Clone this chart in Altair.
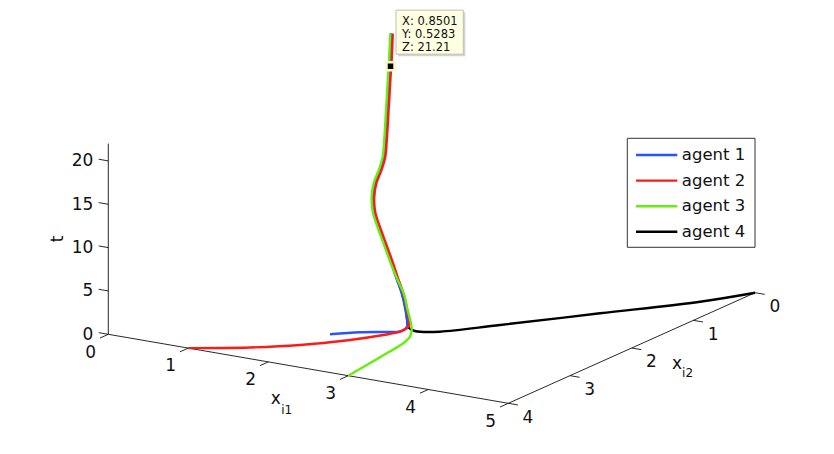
import altair as alt
import pandas as pd

# ---------------- data ----------------
agents = ["agent 1", "agent 2", "agent 3", "agent 4"]
colors = ["#2a52ff", "#ff1a1a", "#66ee11", "#000000"]

# common (consensus) trajectory once the agents have met: t, x_i1, x_i2
cons_t = [1, 2, 3, 4, 5, 6, 7, 8, 9, 10, 11, 12, 13, 14, 15, 16, 18, 20, 22, 25]
cons_x1 = [2.695, 2.552, 2.370, 2.160, 1.956, 1.744, 1.532, 1.330, 1.197, 1.104,
           1.065, 1.010, 0.940, 0.881, 0.838, 0.811, 0.824, 0.836, 0.850, 0.864]
cons_x2 = [2.639, 2.484, 2.306, 2.128, 1.951, 1.773, 1.596, 1.418, 1.263, 1.107,
           0.974, 0.841, 0.730, 0.641, 0.574, 0.530, 0.530, 0.530, 0.530, 0.530]
# small residual separation of each agent on the common path (x_i1)
cons_shift = [-0.006, 0.016, -0.016, 0.0]

# approach phase of each agent
a1_t = [0, 0.15, 0.3, 0.5, 0.75]
a1_x1 = [2.0, 2.258, 2.503, 2.664, 2.697]
a1_x2 = [3.0, 2.848, 2.761, 2.726, 2.679]

a2_t = [0, 0.1, 0.2, 0.3, 0.45, 0.6, 0.75]
a2_x1 = [1.0, 1.562, 1.981, 2.349, 2.575, 2.685, 2.703]
a2_x2 = [4.0, 3.729, 3.461, 3.128, 2.881, 2.754, 2.669]

a3_t = [0, 0.1, 0.25, 0.4, 0.55, 0.75, 1.0, 2.0, 3.0, 4.0]
a3_x1 = [3.0, 2.968, 2.939, 2.914, 2.867, 2.783, 2.656, 2.550, 2.390, 2.160]
a3_x2 = [4.0, 3.660, 3.299, 2.997, 2.828, 2.691, 2.543, 2.457, 2.306, 2.128]

a4_t = [0, 0.05, 0.12, 0.25, 0.4, 0.6, 0.8]
a4_x1 = [5.0, 4.693, 4.036, 3.392, 3.011, 2.806, 2.727]
a4_x2 = [0.0, 0.494, 1.264, 2.049, 2.528, 2.668, 2.662]

# axes
x1_lim = [0, 5]
x2_lim = [0, 4]
t_lim = [0, 22]
x1_ticks = [0, 1, 2, 3, 4, 5]
x2_ticks = [0, 1, 2, 3, 4]
t_ticks = [0, 5, 10, 15, 20]

# data tip
tip_x1, tip_x2, tip_t = 0.8501, 0.5283, 21.21

# ---------------- projection (MATLAB-like 3-D view) ----------------
O = (355.1, 223.7)
E1 = (80.0, 13.8)
E2 = (-61.7, 27.65)
E3 = (0.0, -8.67)


def px(a, b, c):
    return f"{O[0]} + {E1[0]}*datum.{a} + {E2[0]}*datum.{b} + {E3[0]}*datum.{c}"


def py(a, b, c):
    return f"{O[1]} + {E1[1]}*datum.{a} + {E2[1]}*datum.{b} + {E3[1]}*datum.{c}"


XS = alt.Scale(domain=[8, 818], nice=False, zero=False)
YS = alt.Scale(domain=[8, 438], nice=False, zero=False, reverse=True)
FONT = "DejaVu Sans"


def X(f):
    return alt.X(f"{f}:Q", scale=XS, axis=None)


def Y(f):
    return alt.Y(f"{f}:Q", scale=YS, axis=None)


color_enc = alt.Color("agent:N", scale=alt.Scale(domain=agents, range=colors), legend=None)

# ---------------- trajectories ----------------
own = [(a1_t, a1_x1, a1_x2), (a2_t, a2_x1, a2_x2), (a3_t, a3_x1, a3_x2), (a4_t, a4_x1, a4_x2)]
rows = []
for i, name in enumerate(agents):
    ts, xs1, xs2 = own[i]
    for t, a, b in zip(ts, xs1, xs2):
        rows.append({"agent": name, "t": t, "x1": a, "x2": b})
    for t, a, b in zip(cons_t, cons_x1, cons_x2):
        if t > max(ts):
            rows.append({"agent": name, "t": t, "x1": a + cons_shift[i], "x2": b})
traj = pd.DataFrame(rows)

base = alt.Chart(traj).transform_calculate(sx=px("x1", "x2", "t"), sy=py("x1", "x2", "t"))
line_layers = []
for name in ["agent 4", "agent 1", "agent 2", "agent 3"]:
    line_layers.append(
        base.transform_filter(alt.datum.agent == name)
        .mark_line(strokeWidth=2.4, interpolate="catmull-rom")
        .encode(x=X("sx"), y=Y("sy"), color=color_enc, order=alt.Order("t:Q"))
    )

# ---------------- axes lines & ticks ----------------
seg = []
seg.append(dict(x1a=x1_lim[0], x2a=x2_lim[1], ta=0, x1b=x1_lim[1], x2b=x2_lim[1], tb=0))
seg.append(dict(x1a=x1_lim[1], x2a=x2_lim[0], ta=0, x1b=x1_lim[1], x2b=x2_lim[1], tb=0))
seg.append(dict(x1a=x1_lim[0], x2a=x2_lim[1], ta=t_lim[0], x1b=x1_lim[0], x2b=x2_lim[1], tb=t_lim[1]))
for v in x1_ticks:
    seg.append(dict(x1a=v, x2a=x2_lim[1], ta=0, x1b=v, x2b=x2_lim[1] + 0.135, tb=0))
for v in x2_ticks:
    seg.append(dict(x1a=x1_lim[1], x2a=v, ta=0, x1b=x1_lim[1] + 0.12, x2b=v, tb=0))
for v in t_ticks:
    seg.append(dict(x1a=x1_lim[0], x2a=x2_lim[1], ta=v, x1b=x1_lim[0] - 0.12, x2b=x2_lim[1], tb=v))
segs = pd.DataFrame(seg)
axes = (
    alt.Chart(segs)
    .transform_calculate(sxa=px("x1a", "x2a", "ta"), sya=py("x1a", "x2a", "ta"),
                         sxb=px("x1b", "x2b", "tb"), syb=py("x1b", "x2b", "tb"))
    .mark_rule(color="#111111", strokeWidth=0.9)
    .encode(x=X("sxa"), y=Y("sya"), x2="sxb:Q", y2="syb:Q")
)

lab1 = pd.DataFrame({"x1": x1_ticks, "x2": [x2_lim[1]] * len(x1_ticks), "t": [0] * len(x1_ticks),
                     "lab": [str(v) for v in x1_ticks]})
lab2 = pd.DataFrame({"x1": [x1_lim[1]] * len(x2_ticks), "x2": x2_ticks, "t": [0] * len(x2_ticks),
                     "lab": [str(v) for v in x2_ticks]})
lab3 = pd.DataFrame({"x1": [x1_lim[0]] * len(t_ticks), "x2": [x2_lim[1]] * len(t_ticks), "t": t_ticks,
                     "lab": [str(v) for v in t_ticks]})


def tick_text(df, dx, dy, align):
    return (
        alt.Chart(df)
        .transform_calculate(sx=px("x1", "x2", "t"), sy=py("x1", "x2", "t"))
        .mark_text(font=FONT, fontSize=17, align=align, baseline="middle", dx=dx, dy=dy, color="#111111")
        .encode(x=X("sx"), y=Y("sy"), text="lab:N")
    )


ticklabels = [tick_text(lab1, -17.7, 18.2, "center"),
              tick_text(lab2, 19.7, 14.2, "center"),
              tick_text(lab3, -15, 0.5, "right")]

# axis titles
titles_df = pd.DataFrame([
    {"x1": 0.0, "x2": 4.0, "t": 11.0, "lab": "t", "kind": "t"},
    {"x1": 2.5, "x2": 4.0, "t": 0.0, "lab": "x", "kind": "x1"},
    {"x1": 5.0, "x2": 1.5, "t": 0.0, "lab": "x", "kind": "x2"},
])
tb = alt.Chart(titles_df).transform_calculate(sx=px("x1", "x2", "t"), sy=py("x1", "x2", "t"))
title_layers = [
    tb.transform_filter(alt.datum.kind == "t").mark_text(
        font=FONT, fontSize=17, angle=270, align="center", baseline="middle", dx=0, dy=0, color="#111111"
    ).encode(x=X("sx"), y=Y("sy"), text="lab:N").transform_calculate(sx="datum.sx - 50"),
    tb.transform_filter(alt.datum.kind == "x1").mark_text(
        font=FONT, fontSize=17, align="center", baseline="middle", dx=-32.5, dy=30, color="#111111"
    ).encode(x=X("sx"), y=Y("sy"), text="lab:N"),
    tb.transform_filter(alt.datum.kind == "x1").mark_text(
        font=FONT, fontSize=12, align="center", baseline="middle", dx=-21.6, dy=41.5, color="#111111"
    ).encode(x=X("sx"), y=Y("sy"), text=alt.value("i1")),
    tb.transform_filter(alt.datum.kind == "x2").mark_text(
        font=FONT, fontSize=17, align="center", baseline="middle", dx=14.5, dy=29.5, color="#111111"
    ).encode(x=X("sx"), y=Y("sy"), text="lab:N"),
    tb.transform_filter(alt.datum.kind == "x2").mark_text(
        font=FONT, fontSize=12, align="center", baseline="middle", dx=25, dy=39, color="#111111"
    ).encode(x=X("sx"), y=Y("sy"), text=alt.value("i2")),
]

# ---------------- legend ----------------
leg = pd.DataFrame({"agent": agents, "row": list(range(len(agents)))})
legbox = pd.DataFrame({"bx": [627.3], "bx2": [755.0], "by": [138.3], "by2": [247.3]})
legend_box = alt.Chart(legbox).mark_rect(fill="white", stroke="#333333", strokeWidth=1).encode(
    x=X("bx"), x2="bx2:Q", y=Y("by"), y2="by2:Q")
lb = alt.Chart(leg).transform_calculate(ly="155 + 25.6*datum.row", lx0="636", lx1="677.3")
legend_lines = lb.mark_rule(strokeWidth=2.4).encode(x=X("lx0"), x2="lx1:Q", y=Y("ly"), y2="ly:Q", color=color_enc)
legend_text = lb.mark_text(font=FONT, fontSize=16.5, align="left", baseline="middle", dx=4.5, color="#111111").encode(
    x=X("lx1"), y=Y("ly"), text="agent:N")

# ---------------- data tip ----------------
tip = pd.DataFrame({"x1": [tip_x1], "x2": [tip_x2], "t": [tip_t]})
tb2 = alt.Chart(tip).transform_calculate(sx=px("x1", "x2", "t"), sy=py("x1", "x2", "t")).transform_calculate(
    bx="datum.sx + 5.5", bx2="datum.sx + 72.8", by="datum.sy - 56", by2="datum.sy - 12",
    sbx="datum.sx + 7.5", sbx2="datum.sx + 74.8", sby="datum.sy - 54", sby2="datum.sy - 10",
    lx="'X: ' + format(datum.x1, '.4f')", ly="'Y: ' + format(datum.x2, '.4f')", lz="'Z: ' + format(datum.t, '.2f')",
)
tip_shadow = tb2.mark_rect(fill="#c8c8c8", opacity=0.8).encode(x=X("sbx"), x2="sbx2:Q", y=Y("sby"), y2="sby2:Q")
tip_box = tb2.mark_rect(fill="#ffffe1", stroke="#c0c0b0", strokeWidth=1).encode(x=X("bx"), x2="bx2:Q", y=Y("by"), y2="by2:Q")
tip_texts = [
    tb2.mark_text(font=FONT, fontSize=11.5, align="left", baseline="middle", dx=11.5, dy=dy, color="#111111").encode(
        x=X("sx"), y=Y("sy"), text=f"{f}:N")
    for f, dy in [("lx", -44.5), ("ly", -31.5), ("lz", -18.5)]
]
tip_marker = tb2.mark_point(shape="square", filled=True, fill="black", stroke="#fdf8c8", strokeWidth=2.5,
                            size=64, opacity=1).encode(x=X("sx"), y=Y("sy"))

layers = [axes] + ticklabels + title_layers + line_layers + [legend_box, legend_lines, legend_text,
                                                             tip_shadow, tip_box] + tip_texts + [tip_marker]

chart = (
    alt.layer(*layers)
    .properties(width=810, height=430, padding=0, autosize=alt.AutoSizeParams(type="none"))
    .configure_view(stroke=None)
)

chart.save("out.html", embed_options={"renderer": "svg", "actions": False})
